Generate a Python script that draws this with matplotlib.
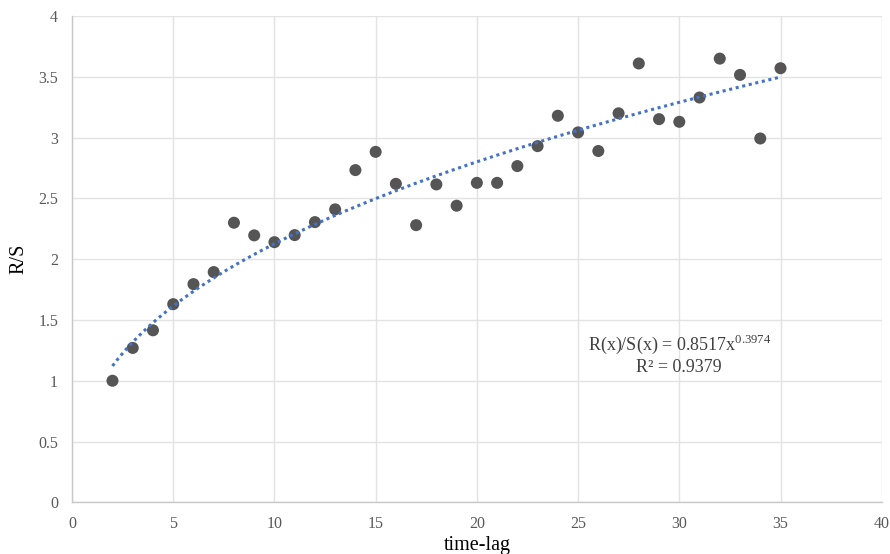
import numpy as np
import matplotlib
matplotlib.use("Agg")
import matplotlib.pyplot as plt

plt.rcParams['font.family'] = ['Liberation Serif', 'DejaVu Serif']
plt.rcParams['mathtext.fontset'] = 'custom'
plt.rcParams['mathtext.rm'] = 'Liberation Serif'

time_lag = [2, 3, 4, 5, 6, 7, 8, 9, 10, 11, 12, 13, 14, 15, 16, 17, 18, 19, 20,
            21, 22, 23, 24, 25, 26, 27, 28, 29, 30, 31, 32, 33, 34, 35]
rs_values = [1.00, 1.27, 1.415, 1.63, 1.795, 1.894, 2.30, 2.196, 2.14, 2.198,
             2.305, 2.41, 2.733, 2.883, 2.62, 2.28, 2.615, 2.44, 2.628, 2.628,
             2.766, 2.93, 3.18, 3.043, 2.89, 3.20, 3.61, 3.152, 3.13, 3.33,
             3.65, 3.516, 2.993, 3.571]
fit_a = 0.8517
fit_b = 0.3974
r_squared = 0.9379
x_ticks = [0, 5, 10, 15, 20, 25, 30, 35, 40]
y_ticks = [0, 0.5, 1, 1.5, 2, 2.5, 3, 3.5, 4]

fig = plt.figure(figsize=(8.9, 5.54), dpi=100)
ax = fig.add_axes([0.0809, 0.0933, 0.9098, 0.8777])

ax.set_xlim(0, 40)
ax.set_ylim(0, 4)
ax.set_xticks(x_ticks)
ax.set_yticks(y_ticks)
ax.set_xticklabels([str(t) for t in x_ticks])
ax.set_yticklabels([f"{t:g}" for t in y_ticks])
ax.grid(True, color='#e3e3e3', linewidth=1)
ax.set_axisbelow(True)
for s in ['top', 'right']:
    ax.spines[s].set_visible(False)
for s in ['left', 'bottom']:
    ax.spines[s].set_color('#c8c8c8')
    ax.spines[s].set_linewidth(1)
ax.tick_params(length=0, labelsize=11.5, colors='#595959', pad=10)

xf = np.linspace(min(time_lag), max(time_lag), 300)
ax.plot(xf, fit_a * xf ** fit_b, linestyle=(0, (1, 1.2)), color='#4472C4',
        linewidth=2.2, zorder=3)
ax.scatter(time_lag, rs_values, s=75, color='#555555', zorder=2, edgecolors='none')

ax.set_xlabel('time-lag', fontsize=14.5, labelpad=3)
ax.set_ylabel('R/S', fontsize=14.5, labelpad=7)

ax.text(30.0, 1.30, r'R(x)/S(x) = %.4fx$^{\mathregular{%.4f}}$' % (fit_a, fit_b),
        fontsize=13, ha='center', va='center', color='#404040')
ax.text(30.0, 1.11, 'R² = %.4f' % r_squared, fontsize=13,
        ha='center', va='center', color='#404040')

fig.savefig('out.png', dpi=100)
